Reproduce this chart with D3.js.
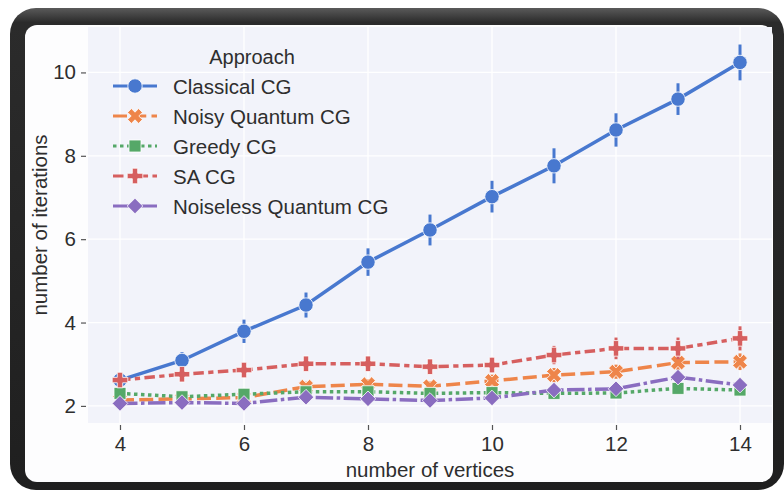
<!DOCTYPE html>
<html>
<head>
<meta charset="utf-8">
<script src="https://cdn.jsdelivr.net/npm/d3@7"></script>
<style>
  html, body { margin: 0; padding: 0; background: #ffffff; }
  svg { display: block; }
  text { font-family: "Liberation Sans", Arial, sans-serif; }
</style>
</head>
<body>
<svg id="chart" width="784" height="492"></svg>
<script>
// ---------------- data ----------------
const vertices = [4, 5, 6, 7, 8, 9, 10, 11, 12, 13, 14];
const seriesNames = ["Classical CG", "Noisy Quantum CG", "Greedy CG", "SA CG", "Noiseless Quantum CG"];
const classicalCG      = [2.62, 3.09, 3.79, 4.42, 5.45, 6.22, 7.02, 7.76, 8.62, 9.36, 10.24];
const classicalErr     = [0.08, 0.2, 0.28, 0.3, 0.33, 0.37, 0.38, 0.42, 0.4, 0.38, 0.43];
const noisyQuantumCG   = [2.14, 2.17, 2.2, 2.46, 2.52, 2.47, 2.6, 2.74, 2.82, 3.04, 3.06];
const noisyErr         = [0.08, 0.08, 0.08, 0.12, 0.12, 0.12, 0.15, 0.17, 0.17, 0.18, 0.2];
const greedyCG         = [2.3, 2.22, 2.28, 2.34, 2.34, 2.3, 2.32, 2.3, 2.31, 2.42, 2.38];
const greedyErr        = [0.06, 0.06, 0.06, 0.06, 0.06, 0.06, 0.06, 0.06, 0.06, 0.07, 0.07];
const saCG             = [2.62, 2.76, 2.86, 3.01, 3.01, 2.94, 2.98, 3.22, 3.38, 3.38, 3.62];
const saErr            = [0.15, 0.15, 0.15, 0.15, 0.15, 0.15, 0.18, 0.22, 0.26, 0.26, 0.29];
const noiselessQCG     = [2.06, 2.08, 2.06, 2.21, 2.17, 2.13, 2.19, 2.38, 2.41, 2.69, 2.5];
const noiselessErr     = [0.05, 0.05, 0.05, 0.06, 0.06, 0.06, 0.06, 0.08, 0.08, 0.12, 0.1];
const xTicks = [4, 6, 8, 10, 12, 14];
const yTicks = [2, 4, 6, 8, 10];
const legendTitle = "Approach";
const xLabel = "number of vertices";
const yLabel = "number of iterations";

// ---------------- styles ----------------
const colors  = ["#4878CF", "#EE854A", "#55A868", "#D65F5F", "#8A6DC0"];
const dashes  = [null, "14,5.25", "3.5,3.5", "10.5,4.4,5.25,4.4", "17.5,3.5,3.5,3.5"];
const markers = ["circle", "x", "square", "plus", "diamond"];
const values  = [classicalCG, noisyQuantumCG, greedyCG, saCG, noiselessQCG];
const errors  = [classicalErr, noisyErr, greedyErr, saErr, noiselessErr];

const svg = d3.select("#chart");

// ---------------- frame ----------------
const defs = svg.append("defs");
const grad = defs.append("linearGradient").attr("id", "frameGrad")
  .attr("x1", 0).attr("y1", 0).attr("x2", 0).attr("y2", 1);
grad.append("stop").attr("offset", "0%").attr("stop-color", "#5a5a5a");
grad.append("stop").attr("offset", "3%").attr("stop-color", "#2b2b2b");
grad.append("stop").attr("offset", "100%").attr("stop-color", "#1f1f1f");

svg.append("rect").attr("x", 10).attr("y", 8).attr("width", 774).attr("height", 482)
  .attr("rx", 26).attr("fill", "url(#frameGrad)");
svg.append("rect").attr("x", 25).attr("y", 25).attr("width", 748).attr("height", 457)
  .attr("rx", 12).attr("fill", "#fdfdfe");

// ---------------- scales ----------------
const plot = { left: 88, right: 772, top: 27, bottom: 423 };
const x = d3.scaleLinear().domain([3.484, 14.516]).range([plot.left, plot.right]);
const y = d3.scaleLinear().domain([1.59, 11.09]).range([plot.bottom, plot.top]);

svg.append("rect").attr("x", plot.left).attr("y", plot.top)
  .attr("width", plot.right - plot.left).attr("height", plot.bottom - plot.top)
  .attr("fill", "#f2f3fa");

// grid
const grid = svg.append("g");
grid.selectAll(".gx").data(xTicks).join("line")
  .attr("x1", d => x(d)).attr("x2", d => x(d))
  .attr("y1", plot.top).attr("y2", plot.bottom)
  .attr("stroke", "#ffffff").attr("stroke-width", 1.3);
grid.selectAll(".gy").data(yTicks).join("line")
  .attr("y1", d => y(d)).attr("y2", d => y(d))
  .attr("x1", plot.left).attr("x2", plot.right)
  .attr("stroke", "#ffffff").attr("stroke-width", 1.3);

// axes
const xAxis = d3.axisBottom(x).tickValues(xTicks).tickSize(5).tickPadding(6).tickFormat(d3.format("d"));
const yAxis = d3.axisLeft(y).tickValues(yTicks).tickSize(5).tickPadding(5).tickFormat(d3.format("d"));

const gx = svg.append("g").attr("transform", `translate(0,${plot.bottom + 2})`).call(xAxis);
const gy = svg.append("g").attr("transform", `translate(${plot.left - 2},0)`).call(yAxis);
[gx, gy].forEach(g => {
  g.select(".domain").remove();
  g.selectAll(".tick line").attr("stroke", "#555").attr("stroke-width", 1.2);
  g.selectAll(".tick text").attr("fill", "#2e2e2e").style("font-size", "20.5px")
    .style("font-family", "'Liberation Sans', Arial, sans-serif");
});

// axis labels
svg.append("text").attr("x", (plot.left + plot.right) / 2).attr("y", 477)
  .attr("text-anchor", "middle").attr("fill", "#2e2e2e").style("font-size", "20.5px")
  .text(xLabel);
svg.append("text").attr("transform", `translate(47,${(plot.top + plot.bottom) / 2}) rotate(-90)`)
  .attr("text-anchor", "middle").attr("fill", "#2e2e2e").style("font-size", "20.5px")
  .text(yLabel);

// ---------------- markers ----------------
function markerPath(type) {
  if (type === "circle") return d3.symbol(d3.symbolCircle, Math.PI * 7.2 * 7.2)();
  if (type === "square") { const h = 6; return `M${-h},${-h}H${h}V${h}H${-h}Z`; }
  if (type === "diamond") { const h = 7.8; return `M0,${-h}L${h},0L0,${h}L${-h},0Z`; }
  const L = 7.8, w = 2.7;
  const pts = [[-w,-L],[w,-L],[w,-w],[L,-w],[L,w],[w,w],[w,L],[-w,L],[-w,w],[-L,w],[-L,-w],[-w,-w]];
  let p = pts;
  if (type === "x") {
    const c = Math.SQRT1_2;
    p = pts.map(([a, b]) => [(a - b) * c, (a + b) * c]);
  }
  return "M" + p.map(q => q[0].toFixed(2) + "," + q[1].toFixed(2)).join("L") + "Z";
}

// ---------------- series ----------------
const line = d3.line().x(d => x(d.x)).y(d => y(d.y));
values.forEach((vals, i) => {
  const pts = vertices.map((v, j) => ({ x: v, y: vals[j], e: errors[i][j] }));
  const g = svg.append("g");
  g.append("path").datum(pts).attr("d", line)
    .attr("fill", "none").attr("stroke", colors[i]).attr("stroke-width", 3.5)
    .attr("stroke-dasharray", dashes[i]).attr("stroke-linecap", "butt");
  g.selectAll(".err").data(pts).join("line")
    .attr("x1", d => x(d.x)).attr("x2", d => x(d.x))
    .attr("y1", d => y(d.y - d.e)).attr("y2", d => y(d.y + d.e))
    .attr("stroke", colors[i]).attr("stroke-width", 3);
  g.selectAll(".mk").data(pts).join("path")
    .attr("d", markerPath(markers[i]))
    .attr("transform", d => `translate(${x(d.x)},${y(d.y)})`)
    .attr("fill", colors[i]).attr("stroke", "#ffffff").attr("stroke-width", 0.8);
});

// ---------------- legend ----------------
const lg = svg.append("g");
lg.append("text").attr("x", 252).attr("y", 64).attr("text-anchor", "middle")
  .attr("fill", "#2e2e2e").style("font-size", "20px").text(legendTitle);
seriesNames.forEach((name, i) => {
  const cy = 86 + i * 30;
  lg.append("line").attr("x1", 113).attr("x2", 157).attr("y1", cy).attr("y2", cy)
    .attr("stroke", colors[i]).attr("stroke-width", 3)
    .attr("stroke-dasharray", dashes[i]);
  lg.append("path").attr("d", markerPath(markers[i]))
    .attr("transform", `translate(135,${cy})`)
    .attr("fill", colors[i]).attr("stroke", "#ffffff").attr("stroke-width", 0.8);
  lg.append("text").attr("x", 173).attr("y", cy + 7.5)
    .attr("fill", "#2e2e2e").style("font-size", "20.5px").text(name);
});
</script>
</body>
</html>
